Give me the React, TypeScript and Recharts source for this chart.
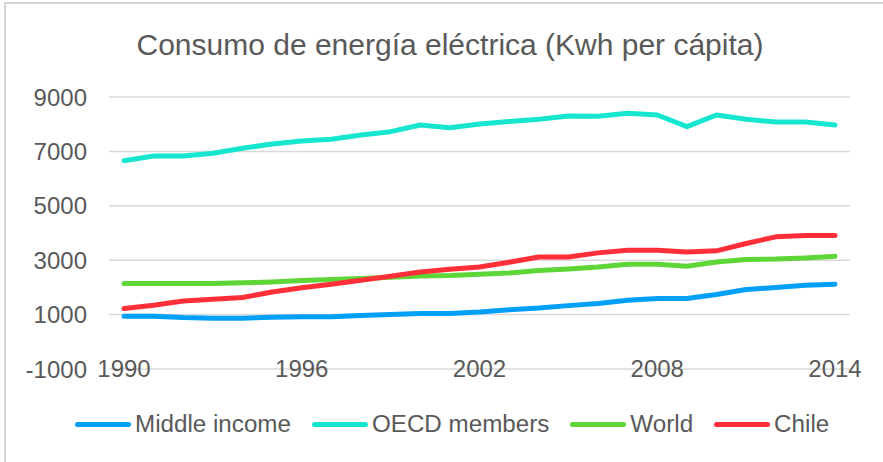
import React from 'react';
import { CartesianGrid, Legend, Line, LineChart, XAxis, YAxis } from 'recharts';

const years = [
  '1990', '1991', '1992', '1993', '1994', '1995', '1996', '1997', '1998', '1999', '2000', '2001', '2002',
  '2003', '2004', '2005', '2006', '2007', '2008', '2009', '2010', '2011', '2012', '2013', '2014',
];

const middleIncome = [
  937, 937, 890, 868, 868, 900, 925, 925, 963, 1000, 1037, 1037, 1096,
  1180, 1240, 1330, 1405, 1527, 1589, 1589, 1737, 1921, 1995, 2079, 2116,
];

const oecdMembers = [
  6657, 6830, 6830, 6930, 7114, 7272, 7380, 7445, 7604, 7725, 7972, 7870, 8010,
  8095, 8180, 8300, 8290, 8403, 8340, 7910, 8340, 8180, 8082, 8082, 7972,
];

const world = [
  2142, 2142, 2142, 2142, 2170, 2200, 2250, 2290, 2326, 2370, 2420, 2436, 2484,
  2532, 2620, 2680, 2753, 2852, 2852, 2779, 2937, 3026, 3040, 3085, 3147,
];

const chile = [
  1221, 1342, 1500, 1560, 1626, 1832, 1990, 2116, 2263, 2410, 2569, 2668, 2753,
  2926, 3120, 3121, 3269, 3368, 3368, 3300, 3343, 3615, 3858, 3910, 3910,
];

const yTicks = [-1000, 1000, 3000, 5000, 7000, 9000];

const series = [
  { key: 'middle', name: 'Middle income', color: '#00a0f8' },
  { key: 'oecd', name: 'OECD members', color: '#16e6cf' },
  { key: 'world', name: 'World', color: '#5fd638' },
  { key: 'chile', name: 'Chile', color: '#ff2f3a' },
];

const data = years.map((year, i) => ({
  year,
  middle: middleIncome[i],
  oecd: oecdMembers[i],
  world: world[i],
  chile: chile[i],
}));

const font = '"Liberation Sans", Arial, sans-serif';
const textColor = '#595959';

function XTick(props: any) {
  const { x, y, payload } = props;
  return (
    <text x={x} y={y + 6} textAnchor="middle" fontSize={24} fill={textColor} fontFamily={font}>
      {payload.value}
    </text>
  );
}

function LegendRow() {
  return (
    <div
      style={{
        display: 'flex',
        alignItems: 'center',
        height: 30,
        paddingLeft: 75,
        fontFamily: font,
        whiteSpace: 'nowrap',
        width: 883,
        boxSizing: 'border-box',
      }}
    >
      {series.map((s) => (
        <div key={s.key} style={{ display: 'flex', alignItems: 'center', marginRight: 21, flexShrink: 0 }}>
          <div style={{ width: 56, height: 5, borderRadius: 3, background: s.color, marginRight: 4 }} />
          <span style={{ fontSize: 24.2, color: textColor }}>{s.name}</span>
        </div>
      ))}
    </div>
  );
}

export default function App() {
  return (
    <div style={{ position: 'absolute', left: 0, top: 0, width: 883, height: 462, overflow: 'hidden', background: '#fff' }}>
      <div
        style={{
          position: 'absolute',
          left: 4,
          top: 2,
          width: 900,
          height: 480,
          border: '2px solid #d6d6d6',
          boxSizing: 'border-box',
        }}
      />
      <div
        style={{
          position: 'absolute',
          left: 0,
          top: 27,
          width: 900,
          textAlign: 'center',
          fontFamily: font,
          fontSize: 30,
          color: textColor,
          lineHeight: '36px',
        }}
      >
        Consumo de energía eléctrica (Kwh per cápita)
      </div>
      <div style={{ position: 'absolute', left: 0, top: 0 }}>
        <LineChart width={883} height={462} data={data} margin={{ top: 97, right: 33, bottom: 23, left: 0 }}>
          <CartesianGrid vertical={false} stroke="#d9d9d9" strokeWidth={1.5} />
          <XAxis
            dataKey="year"
            axisLine={false}
            tickLine={false}
            tickSize={0}
            interval={5}
            height={40}
            padding={{ left: 15, right: 15 }}
            tick={<XTick />}
          />
          <YAxis
            domain={[-1000, 9000]}
            ticks={yTicks}
            width={109}
            axisLine={false}
            tickLine={false}
            tickSize={0}
            tickMargin={22}
            tick={{ fontSize: 24, fill: textColor, fontFamily: font }}
          />
          <Legend
            verticalAlign="bottom"
            wrapperStyle={{ left: 0, width: 883 }}
            content={<LegendRow />}
          />
          {series.map((s) => (
            <Line
              key={s.key}
              type="linear"
              dataKey={s.key}
              name={s.name}
              stroke={s.color}
              strokeWidth={5}
              strokeLinecap="round"
              strokeLinejoin="round"
              dot={false}
              isAnimationActive={false}
            />
          ))}
        </LineChart>
      </div>
    </div>
  );
}
